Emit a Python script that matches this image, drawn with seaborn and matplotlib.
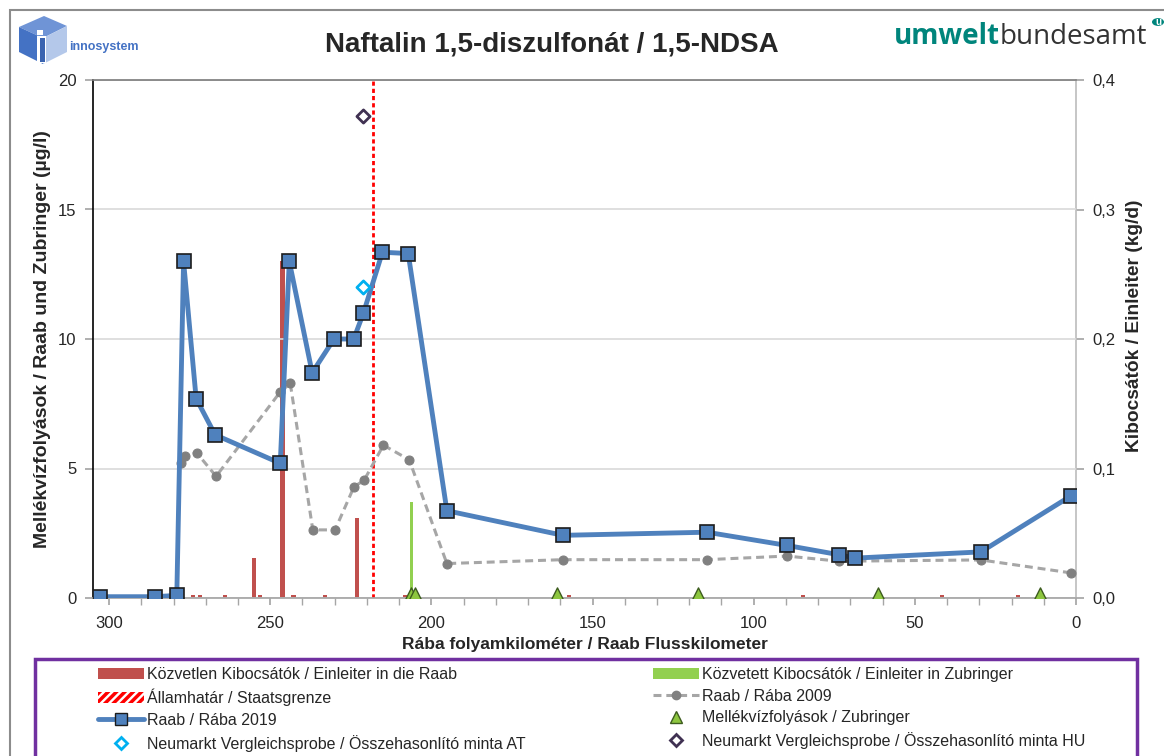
import numpy as np
import pandas as pd
import matplotlib as mpl
import matplotlib.pyplot as plt
import seaborn as sns
from matplotlib.patches import Patch, Rectangle, Polygon, Circle
from matplotlib.lines import Line2D
from matplotlib.ticker import MultipleLocator, FuncFormatter

# --- data (river km, values) ---
km_2019 = [302.8, 285.8, 279.0, 276.9, 273.0, 267.1, 246.9, 244.1, 237.0, 230.2, 224.1,
           221.1, 215.2, 207.2, 195.2, 159.2, 114.5, 89.7, 73.5, 68.6, 29.5, 1.6]
raab_2019 = [0.05, 0.05, 0.1, 13.0, 7.7, 6.3, 5.2, 13.0, 8.7, 10.0, 10.0,
             11.0, 13.35, 13.3, 3.37, 2.42, 2.54, 2.03, 1.67, 1.54, 1.78, 3.94]

km_2009 = [277.8, 276.5, 272.8, 266.8, 247.0, 243.8, 236.8, 229.9, 224.0, 220.9,
           214.9, 206.9, 195.2, 159.2, 114.5, 89.7, 73.5, 29.5, 1.6]
raab_2009 = [5.2, 5.48, 5.6, 4.7, 7.94, 8.29, 2.63, 2.63, 4.3, 4.54,
             5.9, 5.34, 1.33, 1.48, 1.48, 1.62, 1.42, 1.47, 0.97]

direct_km = [273.9, 271.8, 264.0, 255.0, 253.2, 246.2, 242.8, 233.0, 223.1, 208.2,
             157.3, 84.7, 41.6, 18.0]
direct_load = [0.002, 0.002, 0.002, 0.031, 0.002, 0.26, 0.002, 0.002, 0.062, 0.002,
               0.002, 0.002, 0.002, 0.002]

indirect_km = [206.1]
indirect_load = [0.0744]

trib_km = [206.4, 205.1, 161.1, 117.4, 61.3, 11.3]
trib_val = [0.1, 0.1, 0.1, 0.1, 0.1, 0.1]

ref_at_km, ref_at_val = [221.1], [12.0]
ref_hu_km, ref_hu_val = [221.1], [18.6]

border_km = 218.1

BLUE = "#4F81BD"
RED = "#C0504D"
GREEN = "#92D050"

sns.set_theme(style="white")
plt.rcParams['font.family'] = ['Liberation Sans', 'DejaVu Sans']
plt.rcParams['hatch.linewidth'] = 2.5
NARROW = ['Liberation Sans Narrow', 'Liberation Sans', 'DejaVu Sans']

W, H = 1164, 756
fig = plt.figure(figsize=(W / 100, H / 100), dpi=100)


def fx(px):
    return px / W


def fy(py):
    return 1 - py / H


ax = fig.add_axes([fx(93), fy(598), fx(1076 - 93), (598 - 80) / H])
ax2 = ax.twinx()
ax.set_zorder(ax2.get_zorder() + 1)
ax.patch.set_visible(False)

# discharges on the right axis
ax2.bar(direct_km, direct_load, width=1.3, color=RED, linewidth=0)
ax2.bar(indirect_km, indirect_load, width=1.0, color=GREEN, linewidth=0)
ax2.set_ylim(0, 0.4)
ax2.yaxis.set_major_locator(MultipleLocator(0.1))
ax2.yaxis.set_major_formatter(FuncFormatter(lambda v, p: f"{v:.1f}".replace(".", ",")))
ax2.tick_params(axis="y", which="both", right=True, direction="out", length=6,
                color="#a6a6a6", labelsize=12, pad=6)
ax2.grid(False)
for s in ["top", "left", "bottom"]:
    ax2.spines[s].set_visible(False)
ax2.spines["right"].set_color("#bfbfbf")
ax2.set_ylabel("Kibocsátók / Einleiter (kg/d)", fontsize=13.8, fontweight="bold", labelpad=7)
ax2.yaxis.label.set_y(0.525)

# border line
ax.axvline(border_km, color="#FF0000", lw=2, dashes=(1.5, 1.1), zorder=2)

sns.lineplot(x=km_2009, y=raab_2009, ax=ax, color="#a6a6a6", lw=2.2,
             linestyle=(0, (2.6, 1.6)), marker="o", markersize=6.5,
             markerfacecolor="#808080", markeredgecolor="#808080",
             estimator=None, zorder=3)
sns.lineplot(x=km_2019, y=raab_2019, ax=ax, color=BLUE, lw=3.5, marker="s",
             markersize=9.5, markerfacecolor=BLUE, markeredgecolor="#1c1c1c",
             markeredgewidth=1.2, estimator=None, zorder=4)
sns.scatterplot(x=trib_km, y=trib_val, ax=ax, marker="^", s=120, color="#8DC63F",
                edgecolor="#3d5c1f", linewidth=1, zorder=5)
sns.scatterplot(x=ref_at_km, y=ref_at_val, ax=ax, marker="D", s=45, color="white",
                edgecolor="#00B0F0", linewidth=2, zorder=5)
sns.scatterplot(x=ref_hu_km, y=ref_hu_val, ax=ax, marker="D", s=45, color="white",
                edgecolor="#403152", linewidth=2, zorder=5)

ax.set_xlim(305, 0)
ax.set_ylim(0, 20)
ax.xaxis.set_major_locator(MultipleLocator(50))
ax.xaxis.set_minor_locator(MultipleLocator(10))
ax.yaxis.set_major_locator(MultipleLocator(5))
ax.tick_params(axis="x", which="both", bottom=True, direction="out", length=5,
               color="#a6a6a6", labelsize=12, pad=8)
ax.tick_params(axis="y", which="both", left=True, direction="out", length=6,
               color="#a6a6a6", labelsize=12, pad=6)
ax.yaxis.grid(True, color="#d9d9d9", lw=1.2)
ax.xaxis.grid(False)
ax.spines["left"].set_color("black")
ax.spines["left"].set_linewidth(1.2)
ax.spines["bottom"].set_color("#a6a6a6")
ax.spines["top"].set_color("#808080")
ax.spines["right"].set_visible(False)
ax.set_xlabel("Rába folyamkilométer / Raab Flusskilometer", fontsize=12.5,
              fontweight="bold", labelpad=4)
ax.set_ylabel("Mellékvízfolyások / Raab und Zubringer (µg/l)", fontsize=14,
              fontweight="bold", labelpad=5)

# title
fig.text(fx(552), fy(45), "Naftalin 1,5-diszulfonát / 1,5-NDSA", ha="center",
         va="center", fontsize=20, fontweight="bold")

# outer chart frame and legend frame
fig.patches.append(Rectangle((fx(10), -0.1), 1.2, fy(10) + 0.1, transform=fig.transFigure,
                             fill=False, edgecolor="#8c8c8c", lw=1.5))
fig.patches.append(Rectangle((fx(35), -0.05), fx(1137 - 35), fy(659) + 0.05,
                             transform=fig.transFigure, fill=False,
                             edgecolor="#7030A0", lw=2.5))

# legends (two columns)
h_left = [
    Patch(facecolor=RED, edgecolor="none"),
    Patch(facecolor="white", edgecolor="#FF0000", hatch="////", linewidth=0),
    Line2D([], [], color=BLUE, lw=3.5, marker="s", markersize=8,
           markerfacecolor=BLUE, markeredgecolor="#1c1c1c"),
    Line2D([], [], ls="none", marker="D", markersize=6, markerfacecolor="white",
           markeredgecolor="#00B0F0", markeredgewidth=2),
]
l_left = ["Közvetlen Kibocsátók / Einleiter in die Raab", "Államhatár / Staatsgrenze",
          "Raab / Rába 2019", "Neumarkt Vergleichsprobe / Összehasonlító minta AT"]
h_right = [
    Patch(facecolor=GREEN, edgecolor="none"),
    Line2D([], [], color="#a6a6a6", lw=2.2, ls=(0, (2.6, 1.6)), marker="o",
           markersize=6, markerfacecolor="#808080", markeredgecolor="#808080"),
    Line2D([], [], ls="none", marker="^", markersize=9, markerfacecolor="#8DC63F",
           markeredgecolor="#3d5c1f"),
    Line2D([], [], ls="none", marker="D", markersize=6, markerfacecolor="white",
           markeredgecolor="#403152", markeredgewidth=2),
]
l_right = ["Közvetett Kibocsátók / Einleiter in Zubringer", "Raab / Rába 2009",
           "Mellékvízfolyások / Zubringer",
           "Neumarkt Vergleichsprobe / Összehasonlító minta HU"]

for hs, ls, x0 in [(h_left, l_left, 98), (h_right, l_right, 653)]:
    lg = fig.legend(hs, ls, loc="upper left", bbox_to_anchor=(fx(x0), fy(667)),
                    frameon=False, borderpad=0, borderaxespad=0, handlelength=2.9,
                    handletextpad=0.15, labelspacing=0.42,
                    prop={"family": NARROW, "size": 11.5})

# innosystem logo
cube_top = Polygon([(fx(19), fy(27)), (fx(44), fy(16)), (fx(67), fy(26)), (fx(43), fy(38))],
                   closed=True, transform=fig.transFigure, facecolor="#6f94d6", edgecolor="none")
cube_left = Polygon([(fx(19), fy(27)), (fx(43), fy(38)), (fx(43), fy(64)), (fx(19), fy(52))],
                    closed=True, transform=fig.transFigure, facecolor="#4472C4", edgecolor="none")
cube_right = Polygon([(fx(43), fy(38)), (fx(67), fy(26)), (fx(67), fy(52)), (fx(43), fy(64))],
                     closed=True, transform=fig.transFigure, facecolor="#b4c8ea", edgecolor="none")
stem = Rectangle((fx(37), fy(63)), fx(9), (63 - 36) / H, transform=fig.transFigure,
                 facecolor="white", edgecolor="none")
stem_in = Rectangle((fx(40), fy(62)), fx(5), (62 - 38) / H, transform=fig.transFigure,
                    facecolor="#3b64b0", edgecolor="none")
dot = Rectangle((fx(37), fy(35)), fx(6), 5 / H, transform=fig.transFigure,
                facecolor="white", edgecolor="none")
for p in [cube_top, cube_left, cube_right, stem, stem_in, dot]:
    fig.patches.append(p)
fig.text(fx(69), fy(47), "innosystem", ha="left", va="center", color="#4472C4",
         fontsize=9, fontweight="bold", family=NARROW)

# umweltbundesamt logo
fig.text(fx(1000), fy(37), "umwelt", ha="right", va="center", color="#00857C",
         fontsize=20, fontweight="bold", family=["Open Sans", "DejaVu Sans"])
fig.text(fx(1000), fy(37), "bundesamt", ha="left", va="center", color="#333333",
         fontsize=20, family=["Open Sans", "DejaVu Sans"])
fig.patches.append(Circle((fx(1158), fy(22)), fx(6), transform=fig.transFigure,
                          facecolor="#00857C", edgecolor="none"))
fig.text(fx(1158), fy(22), "u", ha="center", va="center", color="white", fontsize=7,
         fontweight="bold")

fig.savefig("out.png", dpi=100)
